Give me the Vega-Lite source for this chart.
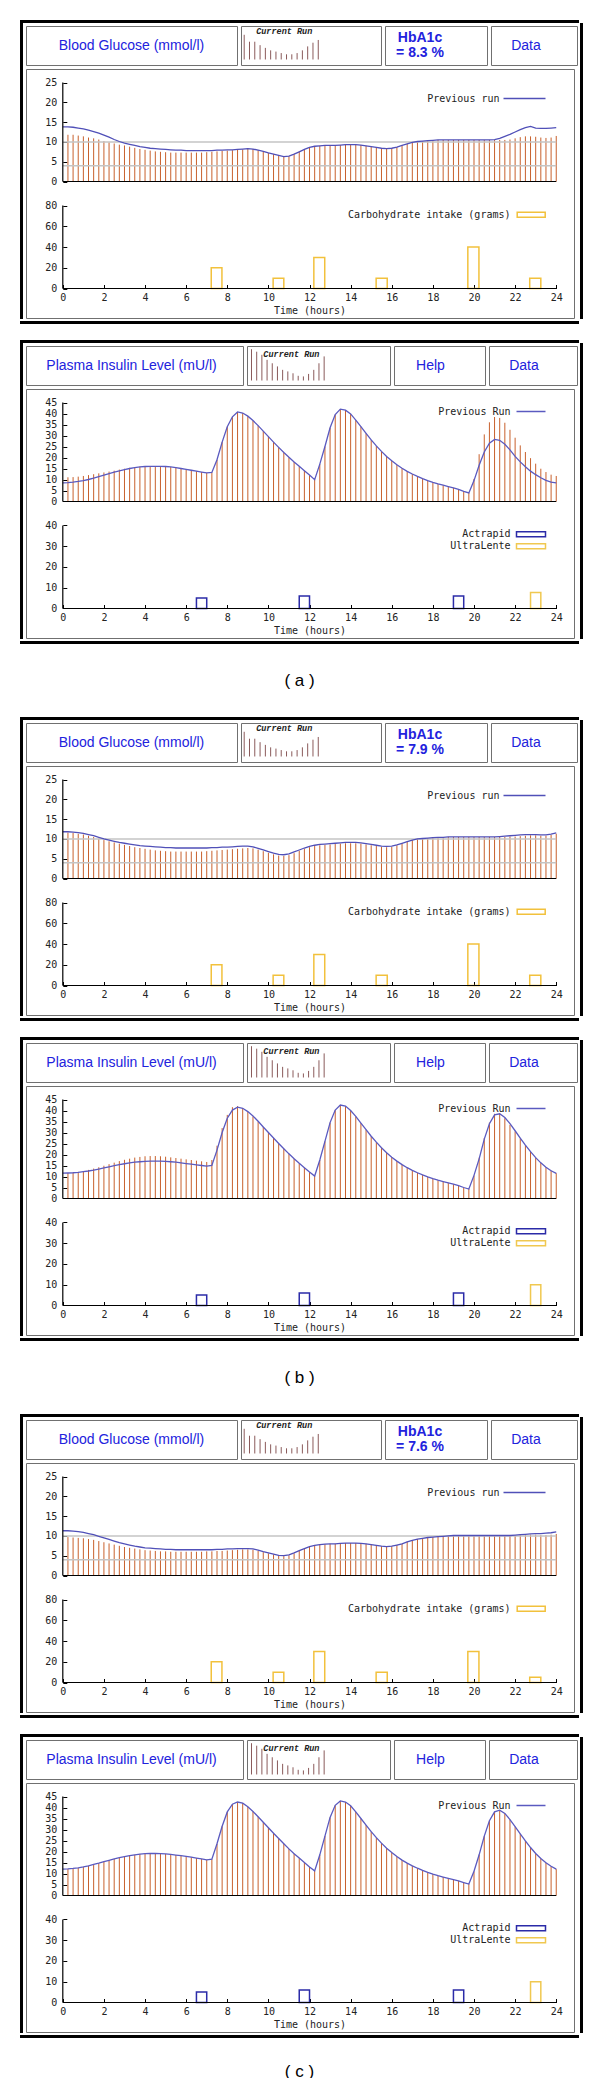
{
"$schema": "https://vega.github.io/schema/vega-lite/v6.json",
"background": "white",
"padding": {"left": 20, "top": 20, "right": 0, "bottom": 0},
"spacing": 16,
"config": {"view": {"stroke": null}},
"datasets": {
"ga": [{"t":0,"p":13.8},{"t":0.25,"v":11.8,"p":13.8},{"t":0.5,"v":11.8,"p":13.7},{"t":0.75,"v":11.6,"p":13.5},{"t":1,"v":11.4,"p":13.3},{"t":1.25,"v":11.1,"p":13.0},{"t":1.5,"v":10.9,"p":12.6},{"t":1.75,"v":10.6,"p":12.2},{"t":2,"v":10.2,"p":11.7},{"t":2.25,"v":9.9,"p":11.2},{"t":2.5,"v":9.6,"p":10.6},{"t":2.75,"v":9.3,"p":10.1},{"t":3,"v":9.1,"p":9.7},{"t":3.25,"v":8.8,"p":9.4},{"t":3.5,"v":8.5,"p":9.1},{"t":3.75,"v":8.2,"p":8.8},{"t":4,"v":8.0,"p":8.6},{"t":4.25,"v":7.8,"p":8.4},{"t":4.5,"v":7.6,"p":8.3},{"t":4.75,"v":7.5,"p":8.2},{"t":5,"v":7.4,"p":8.1},{"t":5.25,"v":7.3,"p":8.0},{"t":5.5,"v":7.3,"p":7.9},{"t":5.75,"v":7.3,"p":7.9},{"t":6,"v":7.3,"p":7.8},{"t":6.25,"v":7.3,"p":7.8},{"t":6.5,"v":7.3,"p":7.8},{"t":6.75,"v":7.3,"p":7.8},{"t":7,"v":7.4,"p":7.8},{"t":7.25,"v":7.5,"p":7.8},{"t":7.5,"v":7.6,"p":7.9},{"t":7.75,"v":7.7,"p":7.9},{"t":8,"v":7.8,"p":8.0},{"t":8.25,"v":7.9,"p":8.0},{"t":8.5,"v":8.0,"p":8.1},{"t":8.75,"v":8.1,"p":8.2},{"t":9,"v":8.2,"p":8.3},{"t":9.25,"v":8.2,"p":8.2},{"t":9.5,"v":7.9,"p":7.9},{"t":9.75,"v":7.6,"p":7.6},{"t":10,"v":7.2,"p":7.2},{"t":10.25,"v":6.9,"p":6.9},{"t":10.5,"v":6.6,"p":6.6},{"t":10.75,"v":6.3,"p":6.3},{"t":11,"v":6.4,"p":6.4},{"t":11.25,"v":6.9,"p":6.9},{"t":11.5,"v":7.5,"p":7.5},{"t":11.75,"v":8.1,"p":8.1},{"t":12,"v":8.6,"p":8.6},{"t":12.25,"v":8.9,"p":8.9},{"t":12.5,"v":9.0,"p":9.0},{"t":12.75,"v":9.1,"p":9.1},{"t":13,"v":9.1,"p":9.1},{"t":13.25,"v":9.1,"p":9.1},{"t":13.5,"v":9.2,"p":9.2},{"t":13.75,"v":9.3,"p":9.3},{"t":14,"v":9.3,"p":9.3},{"t":14.25,"v":9.3,"p":9.3},{"t":14.5,"v":9.2,"p":9.2},{"t":14.75,"v":9.0,"p":9.0},{"t":15,"v":8.8,"p":8.8},{"t":15.25,"v":8.6,"p":8.6},{"t":15.5,"v":8.4,"p":8.4},{"t":15.75,"v":8.3,"p":8.3},{"t":16,"v":8.4,"p":8.4},{"t":16.25,"v":8.7,"p":8.7},{"t":16.5,"v":9.1,"p":9.1},{"t":16.75,"v":9.5,"p":9.5},{"t":17,"v":9.9,"p":9.9},{"t":17.25,"v":10.1,"p":10.1},{"t":17.5,"v":10.2,"p":10.2},{"t":17.75,"v":10.3,"p":10.3},{"t":18,"v":10.4,"p":10.4},{"t":18.25,"v":10.5,"p":10.5},{"t":18.5,"v":10.5,"p":10.5},{"t":18.75,"v":10.5,"p":10.5},{"t":19,"v":10.5,"p":10.5},{"t":19.25,"v":10.5,"p":10.5},{"t":19.5,"v":10.5,"p":10.5},{"t":19.75,"v":10.5,"p":10.5},{"t":20,"v":10.5,"p":10.5},{"t":20.25,"v":10.5,"p":10.5},{"t":20.5,"v":10.5,"p":10.5},{"t":20.75,"v":10.5,"p":10.5},{"t":21,"v":10.5,"p":10.6},{"t":21.25,"v":10.5,"p":10.9},{"t":21.5,"v":10.5,"p":11.4},{"t":21.75,"v":10.6,"p":11.9},{"t":22,"v":10.9,"p":12.5},{"t":22.25,"v":11.2,"p":13.1},{"t":22.5,"v":11.4,"p":13.6},{"t":22.75,"v":11.4,"p":13.9},{"t":23,"v":11.3,"p":13.5},{"t":23.25,"v":11.1,"p":13.4},{"t":23.5,"v":11.0,"p":13.4},{"t":23.75,"v":11.1,"p":13.5},{"t":24,"v":11.5,"p":13.6}],
"gb": [{"t":0,"p":11.8},{"t":0.25,"v":11.6,"p":11.8},{"t":0.5,"v":11.5,"p":11.7},{"t":0.75,"v":11.3,"p":11.6},{"t":1,"v":11.1,"p":11.4},{"t":1.25,"v":10.8,"p":11.1},{"t":1.5,"v":10.5,"p":10.8},{"t":1.75,"v":10.1,"p":10.4},{"t":2,"v":9.7,"p":10.0},{"t":2.25,"v":9.4,"p":9.7},{"t":2.5,"v":9.1,"p":9.4},{"t":2.75,"v":8.8,"p":9.1},{"t":3,"v":8.5,"p":8.9},{"t":3.25,"v":8.2,"p":8.7},{"t":3.5,"v":7.9,"p":8.5},{"t":3.75,"v":7.7,"p":8.3},{"t":4,"v":7.5,"p":8.2},{"t":4.25,"v":7.3,"p":8.1},{"t":4.5,"v":7.1,"p":8.0},{"t":4.75,"v":7.0,"p":7.9},{"t":5,"v":6.9,"p":7.8},{"t":5.25,"v":6.8,"p":7.8},{"t":5.5,"v":6.8,"p":7.7},{"t":5.75,"v":6.8,"p":7.7},{"t":6,"v":6.8,"p":7.7},{"t":6.25,"v":6.8,"p":7.7},{"t":6.5,"v":6.8,"p":7.7},{"t":6.75,"v":6.8,"p":7.7},{"t":7,"v":6.9,"p":7.7},{"t":7.25,"v":7.0,"p":7.8},{"t":7.5,"v":7.1,"p":7.8},{"t":7.75,"v":7.2,"p":7.9},{"t":8,"v":7.3,"p":7.9},{"t":8.25,"v":7.4,"p":8.0},{"t":8.5,"v":7.5,"p":8.1},{"t":8.75,"v":7.6,"p":8.2},{"t":9,"v":7.7,"p":8.2},{"t":9.25,"v":7.6,"p":8.0},{"t":9.5,"v":7.3,"p":7.6},{"t":9.75,"v":6.9,"p":7.2},{"t":10,"v":6.5,"p":6.8},{"t":10.25,"v":6.1,"p":6.4},{"t":10.5,"v":5.8,"p":6.1},{"t":10.75,"v":5.7,"p":6.0},{"t":11,"v":5.9,"p":6.2},{"t":11.25,"v":6.4,"p":6.7},{"t":11.5,"v":7.0,"p":7.2},{"t":11.75,"v":7.5,"p":7.7},{"t":12,"v":7.9,"p":8.1},{"t":12.25,"v":8.2,"p":8.4},{"t":12.5,"v":8.4,"p":8.6},{"t":12.75,"v":8.5,"p":8.7},{"t":13,"v":8.6,"p":8.8},{"t":13.25,"v":8.7,"p":8.9},{"t":13.5,"v":8.8,"p":9.0},{"t":13.75,"v":8.9,"p":9.1},{"t":14,"v":8.9,"p":9.1},{"t":14.25,"v":8.9,"p":9.1},{"t":14.5,"v":8.8,"p":9.0},{"t":14.75,"v":8.6,"p":8.8},{"t":15,"v":8.4,"p":8.6},{"t":15.25,"v":8.2,"p":8.4},{"t":15.5,"v":8.0,"p":8.2},{"t":15.75,"v":7.9,"p":8.1},{"t":16,"v":8.0,"p":8.2},{"t":16.25,"v":8.4,"p":8.5},{"t":16.5,"v":8.8,"p":8.9},{"t":16.75,"v":9.3,"p":9.3},{"t":17,"v":9.7,"p":9.7},{"t":17.25,"v":10.0,"p":10.0},{"t":17.5,"v":10.1,"p":10.1},{"t":17.75,"v":10.2,"p":10.2},{"t":18,"v":10.3,"p":10.3},{"t":18.25,"v":10.4,"p":10.4},{"t":18.5,"v":10.4,"p":10.4},{"t":18.75,"v":10.5,"p":10.5},{"t":19,"v":10.5,"p":10.5},{"t":19.25,"v":10.5,"p":10.5},{"t":19.5,"v":10.5,"p":10.5},{"t":19.75,"v":10.5,"p":10.5},{"t":20,"v":10.5,"p":10.5},{"t":20.25,"v":10.5,"p":10.5},{"t":20.5,"v":10.5,"p":10.5},{"t":20.75,"v":10.5,"p":10.5},{"t":21,"v":10.5,"p":10.5},{"t":21.25,"v":10.5,"p":10.6},{"t":21.5,"v":10.5,"p":10.7},{"t":21.75,"v":10.6,"p":10.8},{"t":22,"v":10.6,"p":10.9},{"t":22.25,"v":10.7,"p":11.0},{"t":22.5,"v":10.8,"p":11.1},{"t":22.75,"v":10.9,"p":11.1},{"t":23,"v":10.9,"p":11.1},{"t":23.25,"v":10.8,"p":11.0},{"t":23.5,"v":10.8,"p":11.0},{"t":23.75,"v":11.0,"p":11.2},{"t":24,"v":11.3,"p":11.5}],
"gc": [{"t":0,"p":11.3},{"t":0.25,"v":9.7,"p":11.3},{"t":0.5,"v":9.6,"p":11.2},{"t":0.75,"v":9.5,"p":11.1},{"t":1,"v":9.4,"p":10.9},{"t":1.25,"v":9.2,"p":10.6},{"t":1.5,"v":9.0,"p":10.3},{"t":1.75,"v":8.7,"p":9.9},{"t":2,"v":8.4,"p":9.5},{"t":2.25,"v":8.1,"p":9.1},{"t":2.5,"v":7.8,"p":8.7},{"t":2.75,"v":7.5,"p":8.3},{"t":3,"v":7.2,"p":8.0},{"t":3.25,"v":7.0,"p":7.7},{"t":3.5,"v":6.8,"p":7.4},{"t":3.75,"v":6.6,"p":7.2},{"t":4,"v":6.4,"p":7.0},{"t":4.25,"v":6.3,"p":6.9},{"t":4.5,"v":6.2,"p":6.8},{"t":4.75,"v":6.1,"p":6.7},{"t":5,"v":6.1,"p":6.6},{"t":5.25,"v":6.0,"p":6.6},{"t":5.5,"v":6.0,"p":6.5},{"t":5.75,"v":6.0,"p":6.5},{"t":6,"v":6.0,"p":6.5},{"t":6.25,"v":6.0,"p":6.5},{"t":6.5,"v":6.0,"p":6.5},{"t":6.75,"v":6.0,"p":6.5},{"t":7,"v":6.1,"p":6.5},{"t":7.25,"v":6.1,"p":6.5},{"t":7.5,"v":6.2,"p":6.6},{"t":7.75,"v":6.2,"p":6.6},{"t":8,"v":6.3,"p":6.7},{"t":8.25,"v":6.4,"p":6.7},{"t":8.5,"v":6.5,"p":6.8},{"t":8.75,"v":6.6,"p":6.8},{"t":9,"v":6.6,"p":6.8},{"t":9.25,"v":6.5,"p":6.7},{"t":9.5,"v":6.2,"p":6.4},{"t":9.75,"v":5.9,"p":6.0},{"t":10,"v":5.6,"p":5.7},{"t":10.25,"v":5.3,"p":5.4},{"t":10.5,"v":5.0,"p":5.1},{"t":10.75,"v":4.9,"p":5.0},{"t":11,"v":5.1,"p":5.2},{"t":11.25,"v":5.6,"p":5.7},{"t":11.5,"v":6.2,"p":6.3},{"t":11.75,"v":6.8,"p":6.8},{"t":12,"v":7.3,"p":7.3},{"t":12.25,"v":7.6,"p":7.6},{"t":12.5,"v":7.8,"p":7.8},{"t":12.75,"v":7.9,"p":7.9},{"t":13,"v":8.0,"p":8.0},{"t":13.25,"v":8.0,"p":8.0},{"t":13.5,"v":8.1,"p":8.1},{"t":13.75,"v":8.2,"p":8.2},{"t":14,"v":8.2,"p":8.2},{"t":14.25,"v":8.2,"p":8.2},{"t":14.5,"v":8.1,"p":8.1},{"t":14.75,"v":8.0,"p":8.0},{"t":15,"v":7.8,"p":7.8},{"t":15.25,"v":7.6,"p":7.6},{"t":15.5,"v":7.4,"p":7.4},{"t":15.75,"v":7.3,"p":7.3},{"t":16,"v":7.4,"p":7.4},{"t":16.25,"v":7.7,"p":7.7},{"t":16.5,"v":8.0,"p":8.0},{"t":16.75,"v":8.5,"p":8.5},{"t":17,"v":8.9,"p":8.9},{"t":17.25,"v":9.2,"p":9.2},{"t":17.5,"v":9.4,"p":9.4},{"t":17.75,"v":9.6,"p":9.6},{"t":18,"v":9.7,"p":9.7},{"t":18.25,"v":9.8,"p":9.8},{"t":18.5,"v":9.9,"p":9.9},{"t":18.75,"v":10.0,"p":10.0},{"t":19,"v":10.1,"p":10.1},{"t":19.25,"v":10.1,"p":10.1},{"t":19.5,"v":10.1,"p":10.1},{"t":19.75,"v":10.1,"p":10.1},{"t":20,"v":10.1,"p":10.1},{"t":20.25,"v":10.1,"p":10.1},{"t":20.5,"v":10.1,"p":10.1},{"t":20.75,"v":10.1,"p":10.1},{"t":21,"v":10.1,"p":10.1},{"t":21.25,"v":10.1,"p":10.1},{"t":21.5,"v":10.1,"p":10.1},{"t":21.75,"v":10.1,"p":10.1},{"t":22,"v":10.1,"p":10.2},{"t":22.25,"v":10.2,"p":10.3},{"t":22.5,"v":10.3,"p":10.4},{"t":22.75,"v":10.3,"p":10.5},{"t":23,"v":10.3,"p":10.6},{"t":23.25,"v":10.2,"p":10.6},{"t":23.5,"v":10.2,"p":10.7},{"t":23.75,"v":10.3,"p":10.8},{"t":24,"v":10.5,"p":11.0}],
"ia": [{"t":0,"p":8.5},{"t":0.25,"v":11.0,"p":8.6},{"t":0.5,"v":11.1,"p":8.8},{"t":0.75,"v":11.3,"p":9.1},{"t":1,"v":11.6,"p":9.5},{"t":1.25,"v":12.0,"p":10.0},{"t":1.5,"v":12.4,"p":10.6},{"t":1.75,"v":12.8,"p":11.3},{"t":2,"v":13.2,"p":12.0},{"t":2.25,"v":13.6,"p":12.7},{"t":2.5,"v":14.0,"p":13.3},{"t":2.75,"v":14.5,"p":13.9},{"t":3,"v":14.9,"p":14.5},{"t":3.25,"v":15.3,"p":15.0},{"t":3.5,"v":15.6,"p":15.4},{"t":3.75,"v":15.8,"p":15.7},{"t":4,"v":16.0,"p":15.9},{"t":4.25,"v":16.0,"p":16.0},{"t":4.5,"v":16.0,"p":16.0},{"t":4.75,"v":16.0,"p":16.0},{"t":5,"v":15.9,"p":15.9},{"t":5.25,"v":15.7,"p":15.7},{"t":5.5,"v":15.4,"p":15.4},{"t":5.75,"v":15.0,"p":15.0},{"t":6,"v":14.6,"p":14.6},{"t":6.25,"v":14.2,"p":14.2},{"t":6.5,"v":13.8,"p":13.8},{"t":6.75,"v":13.4,"p":13.4},{"t":7,"v":13.0,"p":13.0},{"t":7.25,"v":13.2,"p":13.2},{"t":7.5,"v":19.0,"p":19.0},{"t":7.75,"v":27.0,"p":27.0},{"t":8,"v":34.0,"p":34.0},{"t":8.25,"v":38.5,"p":38.5},{"t":8.5,"v":40.7,"p":40.7},{"t":8.75,"v":40.2,"p":40.2},{"t":9,"v":38.8,"p":38.8},{"t":9.25,"v":36.8,"p":36.8},{"t":9.5,"v":34.5,"p":34.5},{"t":9.75,"v":32.0,"p":32.0},{"t":10,"v":29.5,"p":29.5},{"t":10.25,"v":27.0,"p":27.0},{"t":10.5,"v":24.6,"p":24.6},{"t":10.75,"v":22.3,"p":22.3},{"t":11,"v":20.1,"p":20.1},{"t":11.25,"v":18.0,"p":18.0},{"t":11.5,"v":16.0,"p":16.0},{"t":11.75,"v":14.0,"p":14.0},{"t":12,"v":12.0,"p":12.0},{"t":12.25,"v":9.9,"p":9.9},{"t":12.5,"v":17.0,"p":17.0},{"t":12.75,"v":25.0,"p":25.0},{"t":13,"v":33.5,"p":33.5},{"t":13.25,"v":39.5,"p":39.5},{"t":13.5,"v":42.0,"p":42.0},{"t":13.75,"v":41.5,"p":41.5},{"t":14,"v":39.8,"p":39.8},{"t":14.25,"v":37.0,"p":37.0},{"t":14.5,"v":34.0,"p":34.0},{"t":14.75,"v":31.0,"p":31.0},{"t":15,"v":28.0,"p":28.0},{"t":15.25,"v":25.3,"p":25.3},{"t":15.5,"v":22.8,"p":22.8},{"t":15.75,"v":20.5,"p":20.5},{"t":16,"v":18.5,"p":18.5},{"t":16.25,"v":16.7,"p":16.7},{"t":16.5,"v":15.1,"p":15.1},{"t":16.75,"v":13.7,"p":13.7},{"t":17,"v":12.5,"p":12.5},{"t":17.25,"v":11.4,"p":11.4},{"t":17.5,"v":10.4,"p":10.4},{"t":17.75,"v":9.5,"p":9.5},{"t":18,"v":8.7,"p":8.7},{"t":18.25,"v":8.0,"p":8.0},{"t":18.5,"v":7.4,"p":7.4},{"t":18.75,"v":6.8,"p":6.8},{"t":19,"v":6.2,"p":6.2},{"t":19.25,"v":5.5,"p":5.5},{"t":19.5,"v":4.6,"p":4.6},{"t":19.75,"v":3.9,"p":3.9},{"t":20,"v":10.3,"p":9.5},{"t":20.25,"v":21.5,"p":16.5},{"t":20.5,"v":30.5,"p":22.5},{"t":20.75,"v":36.0,"p":26.5},{"t":21,"v":38.4,"p":28.2},{"t":21.25,"v":38.0,"p":27.8},{"t":21.5,"v":35.8,"p":26.0},{"t":21.75,"v":32.6,"p":23.5},{"t":22,"v":29.0,"p":20.5},{"t":22.25,"v":25.5,"p":18.0},{"t":22.5,"v":22.5,"p":15.8},{"t":22.75,"v":19.7,"p":13.8},{"t":23,"v":17.2,"p":12.2},{"t":23.25,"v":14.9,"p":10.8},{"t":23.5,"v":13.4,"p":9.6},{"t":23.75,"v":12.2,"p":8.8},{"t":24,"v":11.6,"p":8.5}],
"ib": [{"t":0,"p":11.5},{"t":0.25,"v":11.6,"p":11.6},{"t":0.5,"v":11.8,"p":11.7},{"t":0.75,"v":12.1,"p":11.9},{"t":1,"v":12.5,"p":12.2},{"t":1.25,"v":13.0,"p":12.5},{"t":1.5,"v":13.6,"p":12.9},{"t":1.75,"v":14.2,"p":13.4},{"t":2,"v":14.9,"p":13.9},{"t":2.25,"v":15.6,"p":14.4},{"t":2.5,"v":16.3,"p":14.9},{"t":2.75,"v":17.0,"p":15.4},{"t":3,"v":17.6,"p":15.8},{"t":3.25,"v":18.1,"p":16.2},{"t":3.5,"v":18.6,"p":16.5},{"t":3.75,"v":18.9,"p":16.7},{"t":4,"v":19.2,"p":16.9},{"t":4.25,"v":19.3,"p":17.0},{"t":4.5,"v":19.3,"p":17.0},{"t":4.75,"v":19.2,"p":17.0},{"t":5,"v":19.0,"p":16.9},{"t":5.25,"v":18.7,"p":16.7},{"t":5.5,"v":18.4,"p":16.5},{"t":5.75,"v":18.1,"p":16.2},{"t":6,"v":17.8,"p":15.9},{"t":6.25,"v":17.5,"p":15.6},{"t":6.5,"v":17.2,"p":15.3},{"t":6.75,"v":16.9,"p":15.0},{"t":7,"v":16.6,"p":14.7},{"t":7.25,"v":17.5,"p":15.0},{"t":7.5,"v":24.0,"p":22.0},{"t":7.75,"v":32.0,"p":30.0},{"t":8,"v":38.0,"p":36.5},{"t":8.25,"v":41.5,"p":40.2},{"t":8.5,"v":42.0,"p":41.5},{"t":8.75,"v":41.0,"p":41.0},{"t":9,"v":39.3,"p":39.5},{"t":9.25,"v":37.3,"p":37.5},{"t":9.5,"v":35.0,"p":35.1},{"t":9.75,"v":32.5,"p":32.5},{"t":10,"v":30.0,"p":30.0},{"t":10.25,"v":27.5,"p":27.5},{"t":10.5,"v":25.0,"p":25.0},{"t":10.75,"v":22.6,"p":22.6},{"t":11,"v":20.3,"p":20.3},{"t":11.25,"v":18.1,"p":18.1},{"t":11.5,"v":16.0,"p":16.0},{"t":11.75,"v":14.0,"p":14.0},{"t":12,"v":12.0,"p":12.0},{"t":12.25,"v":10.2,"p":10.2},{"t":12.5,"v":17.5,"p":17.5},{"t":12.75,"v":26.0,"p":26.0},{"t":13,"v":34.5,"p":34.5},{"t":13.25,"v":40.2,"p":40.2},{"t":13.5,"v":42.5,"p":42.5},{"t":13.75,"v":42.0,"p":42.0},{"t":14,"v":40.0,"p":40.0},{"t":14.25,"v":37.3,"p":37.3},{"t":14.5,"v":34.3,"p":34.3},{"t":14.75,"v":31.3,"p":31.3},{"t":15,"v":28.3,"p":28.3},{"t":15.25,"v":25.6,"p":25.6},{"t":15.5,"v":23.1,"p":23.1},{"t":15.75,"v":20.8,"p":20.8},{"t":16,"v":18.8,"p":18.8},{"t":16.25,"v":17.0,"p":17.0},{"t":16.5,"v":15.4,"p":15.4},{"t":16.75,"v":14.0,"p":14.0},{"t":17,"v":12.8,"p":12.8},{"t":17.25,"v":11.7,"p":11.7},{"t":17.5,"v":10.7,"p":10.7},{"t":17.75,"v":9.8,"p":9.8},{"t":18,"v":9.0,"p":9.0},{"t":18.25,"v":8.3,"p":8.3},{"t":18.5,"v":7.7,"p":7.7},{"t":18.75,"v":7.1,"p":7.1},{"t":19,"v":6.5,"p":6.5},{"t":19.25,"v":5.8,"p":5.8},{"t":19.5,"v":5.0,"p":5.0},{"t":19.75,"v":4.3,"p":4.3},{"t":20,"v":10.5,"p":10.5},{"t":20.25,"v":18.5,"p":18.0},{"t":20.5,"v":27.5,"p":27.0},{"t":20.75,"v":34.5,"p":34.0},{"t":21,"v":38.5,"p":38.0},{"t":21.25,"v":38.5,"p":38.5},{"t":21.5,"v":36.5,"p":36.8},{"t":21.75,"v":33.5,"p":34.0},{"t":22,"v":30.5,"p":30.8},{"t":22.25,"v":27.3,"p":27.5},{"t":22.5,"v":24.2,"p":24.3},{"t":22.75,"v":21.3,"p":21.3},{"t":23,"v":18.6,"p":18.6},{"t":23.25,"v":16.2,"p":16.2},{"t":23.5,"v":14.2,"p":14.2},{"t":23.75,"v":12.7,"p":12.6},{"t":24,"v":11.5,"p":11.4}],
"ic": [{"t":0,"p":12.0},{"t":0.25,"v":12.1,"p":12.1},{"t":0.5,"v":12.3,"p":12.3},{"t":0.75,"v":12.6,"p":12.6},{"t":1,"v":13.0,"p":13.0},{"t":1.25,"v":13.5,"p":13.5},{"t":1.5,"v":14.1,"p":14.1},{"t":1.75,"v":14.7,"p":14.7},{"t":2,"v":15.4,"p":15.4},{"t":2.25,"v":16.0,"p":16.0},{"t":2.5,"v":16.6,"p":16.6},{"t":2.75,"v":17.2,"p":17.2},{"t":3,"v":17.7,"p":17.7},{"t":3.25,"v":18.1,"p":18.1},{"t":3.5,"v":18.5,"p":18.5},{"t":3.75,"v":18.8,"p":18.8},{"t":4,"v":19.0,"p":19.0},{"t":4.25,"v":19.1,"p":19.1},{"t":4.5,"v":19.1,"p":19.1},{"t":4.75,"v":19.0,"p":19.0},{"t":5,"v":18.9,"p":18.9},{"t":5.25,"v":18.7,"p":18.7},{"t":5.5,"v":18.4,"p":18.4},{"t":5.75,"v":18.1,"p":18.1},{"t":6,"v":17.8,"p":17.8},{"t":6.25,"v":17.4,"p":17.4},{"t":6.5,"v":17.0,"p":17.0},{"t":6.75,"v":16.6,"p":16.6},{"t":7,"v":16.2,"p":16.2},{"t":7.25,"v":16.5,"p":16.5},{"t":7.5,"v":23.5,"p":23.5},{"t":7.75,"v":31.5,"p":31.5},{"t":8,"v":38.0,"p":38.0},{"t":8.25,"v":41.5,"p":41.5},{"t":8.5,"v":42.5,"p":42.5},{"t":8.75,"v":42.0,"p":42.0},{"t":9,"v":40.3,"p":40.3},{"t":9.25,"v":38.2,"p":38.2},{"t":9.5,"v":35.8,"p":35.8},{"t":9.75,"v":33.3,"p":33.3},{"t":10,"v":30.8,"p":30.8},{"t":10.25,"v":28.3,"p":28.3},{"t":10.5,"v":25.9,"p":25.9},{"t":10.75,"v":23.5,"p":23.5},{"t":11,"v":21.2,"p":21.2},{"t":11.25,"v":19.0,"p":19.0},{"t":11.5,"v":17.0,"p":17.0},{"t":11.75,"v":15.0,"p":15.0},{"t":12,"v":13.0,"p":13.0},{"t":12.25,"v":11.2,"p":11.2},{"t":12.5,"v":18.5,"p":18.5},{"t":12.75,"v":27.0,"p":27.0},{"t":13,"v":35.5,"p":35.5},{"t":13.25,"v":41.0,"p":41.0},{"t":13.5,"v":43.0,"p":43.0},{"t":13.75,"v":42.5,"p":42.5},{"t":14,"v":40.8,"p":40.8},{"t":14.25,"v":38.0,"p":38.0},{"t":14.5,"v":35.0,"p":35.0},{"t":14.75,"v":32.0,"p":32.0},{"t":15,"v":29.0,"p":29.0},{"t":15.25,"v":26.3,"p":26.3},{"t":15.5,"v":23.8,"p":23.8},{"t":15.75,"v":21.5,"p":21.5},{"t":16,"v":19.5,"p":19.5},{"t":16.25,"v":17.7,"p":17.7},{"t":16.5,"v":16.1,"p":16.1},{"t":16.75,"v":14.7,"p":14.7},{"t":17,"v":13.5,"p":13.5},{"t":17.25,"v":12.4,"p":12.4},{"t":17.5,"v":11.4,"p":11.4},{"t":17.75,"v":10.5,"p":10.5},{"t":18,"v":9.7,"p":9.7},{"t":18.25,"v":9.0,"p":9.0},{"t":18.5,"v":8.4,"p":8.4},{"t":18.75,"v":7.8,"p":7.8},{"t":19,"v":7.2,"p":7.2},{"t":19.25,"v":6.6,"p":6.6},{"t":19.5,"v":5.9,"p":5.9},{"t":19.75,"v":5.2,"p":5.2},{"t":20,"v":11.0,"p":11.0},{"t":20.25,"v":18.5,"p":18.5},{"t":20.5,"v":27.0,"p":27.0},{"t":20.75,"v":34.0,"p":34.0},{"t":21,"v":38.0,"p":38.0},{"t":21.25,"v":38.8,"p":38.8},{"t":21.5,"v":37.3,"p":37.3},{"t":21.75,"v":34.5,"p":34.5},{"t":22,"v":31.3,"p":31.3},{"t":22.25,"v":28.0,"p":28.0},{"t":22.5,"v":24.8,"p":24.8},{"t":22.75,"v":21.8,"p":21.8},{"t":23,"v":19.1,"p":19.1},{"t":23.25,"v":16.8,"p":16.8},{"t":23.5,"v":14.9,"p":14.9},{"t":23.75,"v":13.3,"p":13.3},{"t":24,"v":12.0,"p":12.0}],
"ca": [{"t0":7.22,"t1":7.74,"c":20},{"t0":10.23,"t1":10.75,"c":10},{"t0":12.21,"t1":12.74,"c":30},{"t0":15.24,"t1":15.78,"c":10},{"t0":19.7,"t1":20.24,"c":40},{"t0":22.71,"t1":23.25,"c":10}],
"cb": [{"t0":7.22,"t1":7.74,"c":20},{"t0":10.23,"t1":10.75,"c":10},{"t0":12.21,"t1":12.74,"c":30},{"t0":15.24,"t1":15.78,"c":10},{"t0":19.7,"t1":20.24,"c":40},{"t0":22.71,"t1":23.25,"c":10}],
"cc": [{"t0":7.22,"t1":7.74,"c":20},{"t0":10.23,"t1":10.75,"c":10},{"t0":12.21,"t1":12.74,"c":30},{"t0":15.24,"t1":15.78,"c":10},{"t0":19.7,"t1":20.24,"c":30},{"t0":22.71,"t1":23.25,"c":5}],
"da": [{"t0":6.5,"t1":7.0,"d":5,"type":"Actrapid"},{"t0":11.5,"t1":12.0,"d":6,"type":"Actrapid"},{"t0":19.0,"t1":19.5,"d":6,"type":"Actrapid"},{"t0":22.75,"t1":23.25,"d":7.7,"type":"UltraLente"}],
"db": [{"t0":6.5,"t1":7.0,"d":5,"type":"Actrapid"},{"t0":11.5,"t1":12.0,"d":6,"type":"Actrapid"},{"t0":19.0,"t1":19.5,"d":6,"type":"Actrapid"},{"t0":22.75,"t1":23.25,"d":10,"type":"UltraLente"}],
"dc": [{"t0":6.5,"t1":7.0,"d":5,"type":"Actrapid"},{"t0":11.5,"t1":12.0,"d":6,"type":"Actrapid"},{"t0":19.0,"t1":19.5,"d":6,"type":"Actrapid"},{"t0":22.75,"t1":23.25,"d":10,"type":"UltraLente"}],
"mg": [{"i":0,"h":1.0},{"i":1,"h":0.72},{"i":2,"h":0.72},{"i":3,"h":0.58},{"i":4,"h":0.47},{"i":5,"h":0.37},{"i":6,"h":0.32},{"i":7,"h":0.26},{"i":8,"h":0.21},{"i":9,"h":0.21},{"i":10,"h":0.26},{"i":11,"h":0.37},{"i":12,"h":0.53},{"i":13,"h":0.68},{"i":14,"h":0.79}],
"mi": [{"i":0,"h":1.0},{"i":1,"h":0.92},{"i":2,"h":0.82},{"i":3,"h":0.66},{"i":4,"h":0.55},{"i":5,"h":0.45},{"i":6,"h":0.34},{"i":7,"h":0.29},{"i":8,"h":0.23},{"i":9,"h":0.15},{"i":10,"h":0.13},{"i":11,"h":0.21},{"i":12,"h":0.34},{"i":13,"h":0.55},{"i":14,"h":0.77}]
},
"vconcat": [
{"spacing": 0, "vconcat": [
 {"width": 559, "height": 3, "data": {"values": []}, "mark": "rect", "view": {"fill": "#000", "stroke": null}},
 {"spacing": 2, "hconcat": [
  {"width": 3, "height": 296, "data": {"values": []}, "mark": "rect", "view": {"fill": "#000", "stroke": null}},
  {"spacing": 0, "vconcat": [
   {"width": 549, "height": 2, "data": {"values": []}, "mark": "rect"},
   {"spacing": 2, "hconcat": [
    {"width": 211, "height": 39, "view": {"stroke": "#707070"}, "data": {"values": [{"s": "Blood Glucose (mmol/l)"}]}, "mark": {"type": "text", "font": "Liberation Sans", "fontSize": 14, "color": "#2222dd"}, "encoding": {"text": {"field": "s"}}},
    {"width": 140, "height": 39, "view": {"stroke": "#707070"}, "layer": [
      {"data": {"name": "mg"}, "mark": {"type": "rule", "color": "#8a5a5a", "strokeWidth": 1}, "encoding": {"x": {"field": "i", "type": "quantitative", "scale": {"domain": [-0.605, 25.86], "nice": false, "zero": false}, "axis": null}, "y": {"field": "h", "type": "quantitative", "scale": {"domain": [-0.223, 1.356], "nice": false, "zero": false}, "axis": null}, "y2": {"datum": 0}}},
      {"data": {"values": [{"s": "Current Run"}]}, "mark": {"type": "text", "font": "Liberation Mono", "fontSize": 8.5, "fontStyle": "italic", "fontWeight": "bold", "color": "#222"}, "encoding": {"text": {"field": "s"}, "x": {"datum": 7.56}, "y": {"datum": 1.134}}}
    ]},
    {"width": 102, "height": 39, "view": {"stroke": "#707070"}, "data": {"values": [{"s": ["HbA1c", "= 8.3 %"]}]}, "mark": {"type": "text", "font": "Liberation Sans", "fontSize": 14, "fontWeight": "bold", "lineHeight": 15, "color": "#2222dd", "dx": -16, "dy": -7.5}, "encoding": {"text": {"field": "s"}}},
    {"width": 86, "height": 39, "view": {"stroke": "#707070"}, "data": {"values": [{"s": "Data"}]}, "mark": {"type": "text", "font": "Liberation Sans", "fontSize": 14, "color": "#2222dd", "dx": -8}, "encoding": {"text": {"field": "s"}}}
   ]},
   {"width": 549, "height": 2, "data": {"values": []}, "mark": "rect"},
   {"width": 548, "height": 249, "view": {"stroke": "#707070"},
    "resolve": {"scale": {"y": "independent", "stroke": "independent"}, "axis": {"x": "independent", "y": "independent"}, "legend": {"stroke": "independent"}},
    "layer": [
     {"data": {"name": "ga"}, "mark": {"type": "rule", "color": "#c8602c", "strokeWidth": 1}, "encoding": {"x": {"field": "t", "type": "quantitative", "scale": {"domain": [-1.79, 24.864], "nice": false, "zero": false}, "axis": null}, "y": {"field": "v", "type": "quantitative", "scale": {"domain": [-34.47, 28.41], "nice": false, "zero": false}, "axis": {"orient": "left", "offset": -36.8, "values": [0,5,10,15,20,25], "domain": false, "grid": false, "tickSize": -4, "tickColor": "#000", "labelPadding": 10, "labelFont": "DejaVu Sans Mono", "labelFontSize": 10, "labelColor": "#222", "title": null}}, "y2": {"datum": 0}}},
     {"data": {"values": [{"lvl": 10}, {"lvl": 4}]}, "mark": {"type": "rule", "color": "#c4c4c4", "strokeWidth": 1.5}, "encoding": {"x": {"datum": 0, "scale": {"domain": [-1.79, 24.864], "nice": false, "zero": false}, "axis": null}, "x2": {"datum": 24}, "y": {"field": "lvl", "type": "quantitative", "scale": {"domain": [-34.47, 28.41], "nice": false, "zero": false}, "axis": null}}},
     {"data": {"name": "ga"}, "mark": {"type": "line", "strokeWidth": 1.3}, "encoding": {"x": {"field": "t", "type": "quantitative", "scale": {"domain": [-1.79, 24.864], "nice": false, "zero": false}, "axis": null}, "y": {"field": "p", "type": "quantitative", "scale": {"domain": [-34.47, 28.41], "nice": false, "zero": false}, "axis": null}, "stroke": {"datum": "Previous run", "scale": {"range": ["#5050b8"]}, "legend": {"orient": "none", "legendX": 492.5, "legendY": 23.5, "title": null, "padding": 0, "symbolType": "M-4.2,0L4.2,0", "symbolSize": 100, "symbolStrokeWidth": 1.5, "labelFont": "DejaVu Sans Mono", "labelFontSize": 10, "labelColor": "#222", "labelAlign": "right", "labelOffset": -31, "labelLimit": 300}}}},
     {"data": {"values": [{"k": 1}]}, "mark": {"type": "rule", "color": "#000", "strokeWidth": 1.2}, "encoding": {"x": {"datum": 0, "scale": {"domain": [-1.79, 24.864], "nice": false, "zero": false}, "axis": null}, "x2": {"datum": 24}, "y": {"datum": 0, "scale": {"domain": [-34.47, 28.41], "nice": false, "zero": false}, "axis": null}}},
     {"data": {"values": [{"k": 1}]}, "mark": {"type": "rule", "color": "#000", "strokeWidth": 1.2}, "encoding": {"x": {"datum": 0, "scale": {"domain": [-1.79, 24.864], "nice": false, "zero": false}, "axis": null}, "y": {"datum": 0, "scale": {"domain": [-34.47, 28.41], "nice": false, "zero": false}, "axis": null}, "y2": {"datum": 25}}},
     {"data": {"name": "ca"}, "mark": {"type": "rect", "filled": false, "strokeWidth": 1.5}, "encoding": {"x": {"field": "t0", "type": "quantitative", "scale": {"domain": [-1.79, 24.864], "nice": false, "zero": false}, "axis": {"orient": "bottom", "offset": -29.5, "values": [0,2,4,6,8,10,12,14,16,18,20,22,24], "domain": false, "grid": false, "tickSize": -4, "tickColor": "#000", "labelPadding": 8, "labelFlush": false, "labelFont": "DejaVu Sans Mono", "labelFontSize": 10, "labelColor": "#222", "title": "Time (hours)", "titleFont": "DejaVu Sans Mono", "titleFontSize": 10, "titleFontWeight": "normal", "titleColor": "#222", "titlePadding": 3, "titleX": 283.5}}, "x2": {"field": "t1"}, "y": {"field": "c", "type": "quantitative", "scale": {"domain": [-28.43, 211.57], "nice": false, "zero": false}, "axis": {"orient": "left", "offset": -36.8, "values": [0,20,40,60,80], "domain": false, "grid": false, "tickSize": -4, "tickColor": "#000", "labelPadding": 10, "labelFont": "DejaVu Sans Mono", "labelFontSize": 10, "labelColor": "#222", "title": null}}, "y2": {"datum": 0}, "stroke": {"datum": "Carbohydrate intake (grams)", "scale": {"range": ["#f2c13c"]}, "legend": {"orient": "none", "legendX": 499.2, "legendY": 139.8, "title": null, "padding": 0, "symbolType": "M-2.8,-0.5L2.8,-0.5L2.8,0.5L-2.8,0.5Z", "symbolSize": 100, "symbolStrokeWidth": 1.5, "labelFont": "DejaVu Sans Mono", "labelFontSize": 10, "labelColor": "#222", "labelAlign": "right", "labelOffset": -26.7, "labelLimit": 300}}}},
     {"data": {"values": [{"k": 1}]}, "mark": {"type": "rule", "color": "#000", "strokeWidth": 1.2}, "encoding": {"x": {"datum": 0, "scale": {"domain": [-1.79, 24.864], "nice": false, "zero": false}, "axis": null}, "x2": {"datum": 24}, "y": {"datum": 0, "scale": {"domain": [-28.43, 211.57], "nice": false, "zero": false}, "axis": null}}},
     {"data": {"values": [{"k": 1}]}, "mark": {"type": "rule", "color": "#000", "strokeWidth": 1.2}, "encoding": {"x": {"datum": 0, "scale": {"domain": [-1.79, 24.864], "nice": false, "zero": false}, "axis": null}, "y": {"datum": 0, "scale": {"domain": [-28.43, 211.57], "nice": false, "zero": false}, "axis": null}, "y2": {"datum": 80}}}
    ]},
   {"width": 549, "height": 2, "data": {"values": []}, "mark": "rect"}
  ]},
  {"width": 3, "height": 296, "data": {"values": []}, "mark": "rect", "view": {"fill": "#000", "stroke": null}}
 ]},
 {"width": 559, "height": 3, "data": {"values": []}, "mark": "rect", "view": {"fill": "#000", "stroke": null}}
]},
{"spacing": 0, "vconcat": [
 {"width": 559, "height": 3, "data": {"values": []}, "mark": "rect", "view": {"fill": "#000", "stroke": null}},
 {"spacing": 2, "hconcat": [
  {"width": 3, "height": 296, "data": {"values": []}, "mark": "rect", "view": {"fill": "#000", "stroke": null}},
  {"spacing": 0, "vconcat": [
   {"width": 549, "height": 2, "data": {"values": []}, "mark": "rect"},
   {"spacing": 2, "hconcat": [
    {"width": 217, "height": 39, "view": {"stroke": "#707070"}, "data": {"values": [{"s": "Plasma Insulin Level (mU/l)"}]}, "mark": {"type": "text", "font": "Liberation Sans", "fontSize": 14, "color": "#2222dd", "dx": -3}, "encoding": {"text": {"field": "s"}}},
    {"width": 143, "height": 39, "view": {"stroke": "#707070"}, "layer": [
      {"data": {"name": "mi"}, "mark": {"type": "rule", "color": "#8a5a5a", "strokeWidth": 1}, "encoding": {"x": {"field": "i", "type": "quantitative", "scale": {"domain": [-0.867, 26.69], "nice": false, "zero": false}, "axis": null}, "y": {"field": "h", "type": "quantitative", "scale": {"domain": [-0.144, 1.102], "nice": false, "zero": false}, "axis": null}, "y2": {"datum": 0}}},
      {"data": {"values": [{"s": "Current Run"}]}, "mark": {"type": "text", "font": "Liberation Mono", "fontSize": 8.5, "fontStyle": "italic", "fontWeight": "bold", "color": "#222"}, "encoding": {"text": {"field": "s"}, "x": {"datum": 7.69}, "y": {"datum": 0.853}}}
    ]},
    {"width": 91, "height": 39, "view": {"stroke": "#707070"}, "data": {"values": [{"s": "Help"}]}, "mark": {"type": "text", "font": "Liberation Sans", "fontSize": 14, "color": "#2222dd", "dx": -9}, "encoding": {"text": {"field": "s"}}},
    {"width": 88, "height": 39, "view": {"stroke": "#707070"}, "data": {"values": [{"s": "Data"}]}, "mark": {"type": "text", "font": "Liberation Sans", "fontSize": 14, "color": "#2222dd", "dx": -9}, "encoding": {"text": {"field": "s"}}}
   ]},
   {"width": 549, "height": 2, "data": {"values": []}, "mark": "rect"},
   {"width": 548, "height": 249, "view": {"stroke": "#707070"},
    "resolve": {"scale": {"y": "independent", "stroke": "independent"}, "axis": {"x": "independent", "y": "independent"}, "legend": {"stroke": "independent"}},
    "layer": [
     {"data": {"name": "ia"}, "mark": {"type": "rule", "color": "#c8602c", "strokeWidth": 1}, "encoding": {"x": {"field": "t", "type": "quantitative", "scale": {"domain": [-1.79, 24.864], "nice": false, "zero": false}, "axis": null}, "y": {"field": "v", "type": "quantitative", "scale": {"domain": [-62.05, 51.14], "nice": false, "zero": false}, "axis": {"orient": "left", "offset": -36.8, "values": [0,5,10,15,20,25,30,35,40,45], "domain": false, "grid": false, "tickSize": -4, "tickColor": "#000", "labelPadding": 10, "labelFont": "DejaVu Sans Mono", "labelFontSize": 10, "labelColor": "#222", "title": null}}, "y2": {"datum": 0}}},
     {"data": {"name": "ia"}, "mark": {"type": "line", "strokeWidth": 1.3}, "encoding": {"x": {"field": "t", "type": "quantitative", "scale": {"domain": [-1.79, 24.864], "nice": false, "zero": false}, "axis": null}, "y": {"field": "p", "type": "quantitative", "scale": {"domain": [-62.05, 51.14], "nice": false, "zero": false}, "axis": null}, "stroke": {"datum": "Previous Run", "scale": {"range": ["#5a5ac0"]}, "legend": {"orient": "none", "legendX": 499, "legendY": 16.5, "title": null, "padding": 0, "symbolType": "M-2.9,0L2.9,0", "symbolSize": 100, "symbolStrokeWidth": 1.5, "labelFont": "DejaVu Sans Mono", "labelFontSize": 10, "labelColor": "#222", "labelAlign": "right", "labelOffset": -26.5, "labelLimit": 300}}}},
     {"data": {"values": [{"k": 1}]}, "mark": {"type": "rule", "color": "#000", "strokeWidth": 1.2}, "encoding": {"x": {"datum": 0, "scale": {"domain": [-1.79, 24.864], "nice": false, "zero": false}, "axis": null}, "x2": {"datum": 24}, "y": {"datum": 0, "scale": {"domain": [-62.05, 51.14], "nice": false, "zero": false}, "axis": null}}},
     {"data": {"values": [{"k": 1}]}, "mark": {"type": "rule", "color": "#000", "strokeWidth": 1.2}, "encoding": {"x": {"datum": 0, "scale": {"domain": [-1.79, 24.864], "nice": false, "zero": false}, "axis": null}, "y": {"datum": 0, "scale": {"domain": [-62.05, 51.14], "nice": false, "zero": false}, "axis": null}, "y2": {"datum": 45}}},
     {"data": {"name": "da"}, "mark": {"type": "rect", "filled": false, "strokeWidth": 1.5}, "encoding": {"x": {"field": "t0", "type": "quantitative", "scale": {"domain": [-1.79, 24.864], "nice": false, "zero": false}, "axis": {"orient": "bottom", "offset": -29.5, "values": [0,2,4,6,8,10,12,14,16,18,20,22,24], "domain": false, "grid": false, "tickSize": -4, "tickColor": "#000", "labelPadding": 8, "labelFlush": false, "labelFont": "DejaVu Sans Mono", "labelFontSize": 10, "labelColor": "#222", "title": "Time (hours)", "titleFont": "DejaVu Sans Mono", "titleFontSize": 10, "titleFontWeight": "normal", "titleColor": "#222", "titlePadding": 3, "titleX": 283.5}}, "x2": {"field": "t1"}, "y": {"field": "d", "type": "quantitative", "scale": {"domain": [-14.22, 105.78], "nice": false, "zero": false}, "axis": {"orient": "left", "offset": -36.8, "values": [0,10,20,30,40], "domain": false, "grid": false, "tickSize": -4, "tickColor": "#000", "labelPadding": 10, "labelFont": "DejaVu Sans Mono", "labelFontSize": 10, "labelColor": "#222", "title": null}}, "y2": {"datum": 0}, "stroke": {"field": "type", "type": "nominal", "scale": {"domain": ["Actrapid", "UltraLente"], "range": ["#2b2ba8", "#f0c850"]}, "legend": {"orient": "none", "legendX": 499, "legendY": 139.2, "title": null, "padding": 0, "rowPadding": 0, "symbolType": "M-2.9,-0.5L2.9,-0.5L2.9,0.5L-2.9,0.5Z", "symbolSize": 100, "symbolStrokeWidth": 1.5, "labelFont": "DejaVu Sans Mono", "labelFontSize": 10, "labelColor": "#222", "labelAlign": "right", "labelOffset": -26.5, "labelLimit": 300}}}},
     {"data": {"values": [{"k": 1}]}, "mark": {"type": "rule", "color": "#000", "strokeWidth": 1.2}, "encoding": {"x": {"datum": 0, "scale": {"domain": [-1.79, 24.864], "nice": false, "zero": false}, "axis": null}, "x2": {"datum": 24}, "y": {"datum": 0, "scale": {"domain": [-14.22, 105.78], "nice": false, "zero": false}, "axis": null}}},
     {"data": {"values": [{"k": 1}]}, "mark": {"type": "rule", "color": "#000", "strokeWidth": 1.2}, "encoding": {"x": {"datum": 0, "scale": {"domain": [-1.79, 24.864], "nice": false, "zero": false}, "axis": null}, "y": {"datum": 0, "scale": {"domain": [-14.22, 105.78], "nice": false, "zero": false}, "axis": null}, "y2": {"datum": 40}}}
    ]},
   {"width": 549, "height": 2, "data": {"values": []}, "mark": "rect"}
  ]},
  {"width": 3, "height": 296, "data": {"values": []}, "mark": "rect", "view": {"fill": "#000", "stroke": null}}
 ]},
 {"width": 559, "height": 3, "data": {"values": []}, "mark": "rect", "view": {"fill": "#000", "stroke": null}}
]},
{"width": 559, "height": 41, "data": {"values": [{"s": "( a )"}]}, "mark": {"type": "text", "font": "Liberation Sans", "fontSize": 17, "color": "#000"}, "encoding": {"text": {"field": "s"}}},
{"spacing": 0, "vconcat": [
 {"width": 559, "height": 3, "data": {"values": []}, "mark": "rect", "view": {"fill": "#000", "stroke": null}},
 {"spacing": 2, "hconcat": [
  {"width": 3, "height": 296, "data": {"values": []}, "mark": "rect", "view": {"fill": "#000", "stroke": null}},
  {"spacing": 0, "vconcat": [
   {"width": 549, "height": 2, "data": {"values": []}, "mark": "rect"},
   {"spacing": 2, "hconcat": [
    {"width": 211, "height": 39, "view": {"stroke": "#707070"}, "data": {"values": [{"s": "Blood Glucose (mmol/l)"}]}, "mark": {"type": "text", "font": "Liberation Sans", "fontSize": 14, "color": "#2222dd"}, "encoding": {"text": {"field": "s"}}},
    {"width": 140, "height": 39, "view": {"stroke": "#707070"}, "layer": [
      {"data": {"name": "mg"}, "mark": {"type": "rule", "color": "#8a5a5a", "strokeWidth": 1}, "encoding": {"x": {"field": "i", "type": "quantitative", "scale": {"domain": [-0.605, 25.86], "nice": false, "zero": false}, "axis": null}, "y": {"field": "h", "type": "quantitative", "scale": {"domain": [-0.223, 1.356], "nice": false, "zero": false}, "axis": null}, "y2": {"datum": 0}}},
      {"data": {"values": [{"s": "Current Run"}]}, "mark": {"type": "text", "font": "Liberation Mono", "fontSize": 8.5, "fontStyle": "italic", "fontWeight": "bold", "color": "#222"}, "encoding": {"text": {"field": "s"}, "x": {"datum": 7.56}, "y": {"datum": 1.134}}}
    ]},
    {"width": 102, "height": 39, "view": {"stroke": "#707070"}, "data": {"values": [{"s": ["HbA1c", "= 7.9 %"]}]}, "mark": {"type": "text", "font": "Liberation Sans", "fontSize": 14, "fontWeight": "bold", "lineHeight": 15, "color": "#2222dd", "dx": -16, "dy": -7.5}, "encoding": {"text": {"field": "s"}}},
    {"width": 86, "height": 39, "view": {"stroke": "#707070"}, "data": {"values": [{"s": "Data"}]}, "mark": {"type": "text", "font": "Liberation Sans", "fontSize": 14, "color": "#2222dd", "dx": -8}, "encoding": {"text": {"field": "s"}}}
   ]},
   {"width": 549, "height": 2, "data": {"values": []}, "mark": "rect"},
   {"width": 548, "height": 249, "view": {"stroke": "#707070"},
    "resolve": {"scale": {"y": "independent", "stroke": "independent"}, "axis": {"x": "independent", "y": "independent"}, "legend": {"stroke": "independent"}},
    "layer": [
     {"data": {"name": "gb"}, "mark": {"type": "rule", "color": "#c8602c", "strokeWidth": 1}, "encoding": {"x": {"field": "t", "type": "quantitative", "scale": {"domain": [-1.79, 24.864], "nice": false, "zero": false}, "axis": null}, "y": {"field": "v", "type": "quantitative", "scale": {"domain": [-34.47, 28.41], "nice": false, "zero": false}, "axis": {"orient": "left", "offset": -36.8, "values": [0,5,10,15,20,25], "domain": false, "grid": false, "tickSize": -4, "tickColor": "#000", "labelPadding": 10, "labelFont": "DejaVu Sans Mono", "labelFontSize": 10, "labelColor": "#222", "title": null}}, "y2": {"datum": 0}}},
     {"data": {"values": [{"lvl": 10}, {"lvl": 4}]}, "mark": {"type": "rule", "color": "#c4c4c4", "strokeWidth": 1.5}, "encoding": {"x": {"datum": 0, "scale": {"domain": [-1.79, 24.864], "nice": false, "zero": false}, "axis": null}, "x2": {"datum": 24}, "y": {"field": "lvl", "type": "quantitative", "scale": {"domain": [-34.47, 28.41], "nice": false, "zero": false}, "axis": null}}},
     {"data": {"name": "gb"}, "mark": {"type": "line", "strokeWidth": 1.3}, "encoding": {"x": {"field": "t", "type": "quantitative", "scale": {"domain": [-1.79, 24.864], "nice": false, "zero": false}, "axis": null}, "y": {"field": "p", "type": "quantitative", "scale": {"domain": [-34.47, 28.41], "nice": false, "zero": false}, "axis": null}, "stroke": {"datum": "Previous run", "scale": {"range": ["#5050b8"]}, "legend": {"orient": "none", "legendX": 492.5, "legendY": 23.5, "title": null, "padding": 0, "symbolType": "M-4.2,0L4.2,0", "symbolSize": 100, "symbolStrokeWidth": 1.5, "labelFont": "DejaVu Sans Mono", "labelFontSize": 10, "labelColor": "#222", "labelAlign": "right", "labelOffset": -31, "labelLimit": 300}}}},
     {"data": {"values": [{"k": 1}]}, "mark": {"type": "rule", "color": "#000", "strokeWidth": 1.2}, "encoding": {"x": {"datum": 0, "scale": {"domain": [-1.79, 24.864], "nice": false, "zero": false}, "axis": null}, "x2": {"datum": 24}, "y": {"datum": 0, "scale": {"domain": [-34.47, 28.41], "nice": false, "zero": false}, "axis": null}}},
     {"data": {"values": [{"k": 1}]}, "mark": {"type": "rule", "color": "#000", "strokeWidth": 1.2}, "encoding": {"x": {"datum": 0, "scale": {"domain": [-1.79, 24.864], "nice": false, "zero": false}, "axis": null}, "y": {"datum": 0, "scale": {"domain": [-34.47, 28.41], "nice": false, "zero": false}, "axis": null}, "y2": {"datum": 25}}},
     {"data": {"name": "cb"}, "mark": {"type": "rect", "filled": false, "strokeWidth": 1.5}, "encoding": {"x": {"field": "t0", "type": "quantitative", "scale": {"domain": [-1.79, 24.864], "nice": false, "zero": false}, "axis": {"orient": "bottom", "offset": -29.5, "values": [0,2,4,6,8,10,12,14,16,18,20,22,24], "domain": false, "grid": false, "tickSize": -4, "tickColor": "#000", "labelPadding": 8, "labelFlush": false, "labelFont": "DejaVu Sans Mono", "labelFontSize": 10, "labelColor": "#222", "title": "Time (hours)", "titleFont": "DejaVu Sans Mono", "titleFontSize": 10, "titleFontWeight": "normal", "titleColor": "#222", "titlePadding": 3, "titleX": 283.5}}, "x2": {"field": "t1"}, "y": {"field": "c", "type": "quantitative", "scale": {"domain": [-28.43, 211.57], "nice": false, "zero": false}, "axis": {"orient": "left", "offset": -36.8, "values": [0,20,40,60,80], "domain": false, "grid": false, "tickSize": -4, "tickColor": "#000", "labelPadding": 10, "labelFont": "DejaVu Sans Mono", "labelFontSize": 10, "labelColor": "#222", "title": null}}, "y2": {"datum": 0}, "stroke": {"datum": "Carbohydrate intake (grams)", "scale": {"range": ["#f2c13c"]}, "legend": {"orient": "none", "legendX": 499.2, "legendY": 139.8, "title": null, "padding": 0, "symbolType": "M-2.8,-0.5L2.8,-0.5L2.8,0.5L-2.8,0.5Z", "symbolSize": 100, "symbolStrokeWidth": 1.5, "labelFont": "DejaVu Sans Mono", "labelFontSize": 10, "labelColor": "#222", "labelAlign": "right", "labelOffset": -26.7, "labelLimit": 300}}}},
     {"data": {"values": [{"k": 1}]}, "mark": {"type": "rule", "color": "#000", "strokeWidth": 1.2}, "encoding": {"x": {"datum": 0, "scale": {"domain": [-1.79, 24.864], "nice": false, "zero": false}, "axis": null}, "x2": {"datum": 24}, "y": {"datum": 0, "scale": {"domain": [-28.43, 211.57], "nice": false, "zero": false}, "axis": null}}},
     {"data": {"values": [{"k": 1}]}, "mark": {"type": "rule", "color": "#000", "strokeWidth": 1.2}, "encoding": {"x": {"datum": 0, "scale": {"domain": [-1.79, 24.864], "nice": false, "zero": false}, "axis": null}, "y": {"datum": 0, "scale": {"domain": [-28.43, 211.57], "nice": false, "zero": false}, "axis": null}, "y2": {"datum": 80}}}
    ]},
   {"width": 549, "height": 2, "data": {"values": []}, "mark": "rect"}
  ]},
  {"width": 3, "height": 296, "data": {"values": []}, "mark": "rect", "view": {"fill": "#000", "stroke": null}}
 ]},
 {"width": 559, "height": 3, "data": {"values": []}, "mark": "rect", "view": {"fill": "#000", "stroke": null}}
]},
{"spacing": 0, "vconcat": [
 {"width": 559, "height": 3, "data": {"values": []}, "mark": "rect", "view": {"fill": "#000", "stroke": null}},
 {"spacing": 2, "hconcat": [
  {"width": 3, "height": 296, "data": {"values": []}, "mark": "rect", "view": {"fill": "#000", "stroke": null}},
  {"spacing": 0, "vconcat": [
   {"width": 549, "height": 2, "data": {"values": []}, "mark": "rect"},
   {"spacing": 2, "hconcat": [
    {"width": 217, "height": 39, "view": {"stroke": "#707070"}, "data": {"values": [{"s": "Plasma Insulin Level (mU/l)"}]}, "mark": {"type": "text", "font": "Liberation Sans", "fontSize": 14, "color": "#2222dd", "dx": -3}, "encoding": {"text": {"field": "s"}}},
    {"width": 143, "height": 39, "view": {"stroke": "#707070"}, "layer": [
      {"data": {"name": "mi"}, "mark": {"type": "rule", "color": "#8a5a5a", "strokeWidth": 1}, "encoding": {"x": {"field": "i", "type": "quantitative", "scale": {"domain": [-0.867, 26.69], "nice": false, "zero": false}, "axis": null}, "y": {"field": "h", "type": "quantitative", "scale": {"domain": [-0.144, 1.102], "nice": false, "zero": false}, "axis": null}, "y2": {"datum": 0}}},
      {"data": {"values": [{"s": "Current Run"}]}, "mark": {"type": "text", "font": "Liberation Mono", "fontSize": 8.5, "fontStyle": "italic", "fontWeight": "bold", "color": "#222"}, "encoding": {"text": {"field": "s"}, "x": {"datum": 7.69}, "y": {"datum": 0.853}}}
    ]},
    {"width": 91, "height": 39, "view": {"stroke": "#707070"}, "data": {"values": [{"s": "Help"}]}, "mark": {"type": "text", "font": "Liberation Sans", "fontSize": 14, "color": "#2222dd", "dx": -9}, "encoding": {"text": {"field": "s"}}},
    {"width": 88, "height": 39, "view": {"stroke": "#707070"}, "data": {"values": [{"s": "Data"}]}, "mark": {"type": "text", "font": "Liberation Sans", "fontSize": 14, "color": "#2222dd", "dx": -9}, "encoding": {"text": {"field": "s"}}}
   ]},
   {"width": 549, "height": 2, "data": {"values": []}, "mark": "rect"},
   {"width": 548, "height": 249, "view": {"stroke": "#707070"},
    "resolve": {"scale": {"y": "independent", "stroke": "independent"}, "axis": {"x": "independent", "y": "independent"}, "legend": {"stroke": "independent"}},
    "layer": [
     {"data": {"name": "ib"}, "mark": {"type": "rule", "color": "#c8602c", "strokeWidth": 1}, "encoding": {"x": {"field": "t", "type": "quantitative", "scale": {"domain": [-1.79, 24.864], "nice": false, "zero": false}, "axis": null}, "y": {"field": "v", "type": "quantitative", "scale": {"domain": [-62.05, 51.14], "nice": false, "zero": false}, "axis": {"orient": "left", "offset": -36.8, "values": [0,5,10,15,20,25,30,35,40,45], "domain": false, "grid": false, "tickSize": -4, "tickColor": "#000", "labelPadding": 10, "labelFont": "DejaVu Sans Mono", "labelFontSize": 10, "labelColor": "#222", "title": null}}, "y2": {"datum": 0}}},
     {"data": {"name": "ib"}, "mark": {"type": "line", "strokeWidth": 1.3}, "encoding": {"x": {"field": "t", "type": "quantitative", "scale": {"domain": [-1.79, 24.864], "nice": false, "zero": false}, "axis": null}, "y": {"field": "p", "type": "quantitative", "scale": {"domain": [-62.05, 51.14], "nice": false, "zero": false}, "axis": null}, "stroke": {"datum": "Previous Run", "scale": {"range": ["#5a5ac0"]}, "legend": {"orient": "none", "legendX": 499, "legendY": 16.5, "title": null, "padding": 0, "symbolType": "M-2.9,0L2.9,0", "symbolSize": 100, "symbolStrokeWidth": 1.5, "labelFont": "DejaVu Sans Mono", "labelFontSize": 10, "labelColor": "#222", "labelAlign": "right", "labelOffset": -26.5, "labelLimit": 300}}}},
     {"data": {"values": [{"k": 1}]}, "mark": {"type": "rule", "color": "#000", "strokeWidth": 1.2}, "encoding": {"x": {"datum": 0, "scale": {"domain": [-1.79, 24.864], "nice": false, "zero": false}, "axis": null}, "x2": {"datum": 24}, "y": {"datum": 0, "scale": {"domain": [-62.05, 51.14], "nice": false, "zero": false}, "axis": null}}},
     {"data": {"values": [{"k": 1}]}, "mark": {"type": "rule", "color": "#000", "strokeWidth": 1.2}, "encoding": {"x": {"datum": 0, "scale": {"domain": [-1.79, 24.864], "nice": false, "zero": false}, "axis": null}, "y": {"datum": 0, "scale": {"domain": [-62.05, 51.14], "nice": false, "zero": false}, "axis": null}, "y2": {"datum": 45}}},
     {"data": {"name": "db"}, "mark": {"type": "rect", "filled": false, "strokeWidth": 1.5}, "encoding": {"x": {"field": "t0", "type": "quantitative", "scale": {"domain": [-1.79, 24.864], "nice": false, "zero": false}, "axis": {"orient": "bottom", "offset": -29.5, "values": [0,2,4,6,8,10,12,14,16,18,20,22,24], "domain": false, "grid": false, "tickSize": -4, "tickColor": "#000", "labelPadding": 8, "labelFlush": false, "labelFont": "DejaVu Sans Mono", "labelFontSize": 10, "labelColor": "#222", "title": "Time (hours)", "titleFont": "DejaVu Sans Mono", "titleFontSize": 10, "titleFontWeight": "normal", "titleColor": "#222", "titlePadding": 3, "titleX": 283.5}}, "x2": {"field": "t1"}, "y": {"field": "d", "type": "quantitative", "scale": {"domain": [-14.22, 105.78], "nice": false, "zero": false}, "axis": {"orient": "left", "offset": -36.8, "values": [0,10,20,30,40], "domain": false, "grid": false, "tickSize": -4, "tickColor": "#000", "labelPadding": 10, "labelFont": "DejaVu Sans Mono", "labelFontSize": 10, "labelColor": "#222", "title": null}}, "y2": {"datum": 0}, "stroke": {"field": "type", "type": "nominal", "scale": {"domain": ["Actrapid", "UltraLente"], "range": ["#2b2ba8", "#f0c850"]}, "legend": {"orient": "none", "legendX": 499, "legendY": 139.2, "title": null, "padding": 0, "rowPadding": 0, "symbolType": "M-2.9,-0.5L2.9,-0.5L2.9,0.5L-2.9,0.5Z", "symbolSize": 100, "symbolStrokeWidth": 1.5, "labelFont": "DejaVu Sans Mono", "labelFontSize": 10, "labelColor": "#222", "labelAlign": "right", "labelOffset": -26.5, "labelLimit": 300}}}},
     {"data": {"values": [{"k": 1}]}, "mark": {"type": "rule", "color": "#000", "strokeWidth": 1.2}, "encoding": {"x": {"datum": 0, "scale": {"domain": [-1.79, 24.864], "nice": false, "zero": false}, "axis": null}, "x2": {"datum": 24}, "y": {"datum": 0, "scale": {"domain": [-14.22, 105.78], "nice": false, "zero": false}, "axis": null}}},
     {"data": {"values": [{"k": 1}]}, "mark": {"type": "rule", "color": "#000", "strokeWidth": 1.2}, "encoding": {"x": {"datum": 0, "scale": {"domain": [-1.79, 24.864], "nice": false, "zero": false}, "axis": null}, "y": {"datum": 0, "scale": {"domain": [-14.22, 105.78], "nice": false, "zero": false}, "axis": null}, "y2": {"datum": 40}}}
    ]},
   {"width": 549, "height": 2, "data": {"values": []}, "mark": "rect"}
  ]},
  {"width": 3, "height": 296, "data": {"values": []}, "mark": "rect", "view": {"fill": "#000", "stroke": null}}
 ]},
 {"width": 559, "height": 3, "data": {"values": []}, "mark": "rect", "view": {"fill": "#000", "stroke": null}}
]},
{"width": 559, "height": 41, "data": {"values": [{"s": "( b )"}]}, "mark": {"type": "text", "font": "Liberation Sans", "fontSize": 17, "color": "#000"}, "encoding": {"text": {"field": "s"}}},
{"spacing": 0, "vconcat": [
 {"width": 559, "height": 3, "data": {"values": []}, "mark": "rect", "view": {"fill": "#000", "stroke": null}},
 {"spacing": 2, "hconcat": [
  {"width": 3, "height": 296, "data": {"values": []}, "mark": "rect", "view": {"fill": "#000", "stroke": null}},
  {"spacing": 0, "vconcat": [
   {"width": 549, "height": 2, "data": {"values": []}, "mark": "rect"},
   {"spacing": 2, "hconcat": [
    {"width": 211, "height": 39, "view": {"stroke": "#707070"}, "data": {"values": [{"s": "Blood Glucose (mmol/l)"}]}, "mark": {"type": "text", "font": "Liberation Sans", "fontSize": 14, "color": "#2222dd"}, "encoding": {"text": {"field": "s"}}},
    {"width": 140, "height": 39, "view": {"stroke": "#707070"}, "layer": [
      {"data": {"name": "mg"}, "mark": {"type": "rule", "color": "#8a5a5a", "strokeWidth": 1}, "encoding": {"x": {"field": "i", "type": "quantitative", "scale": {"domain": [-0.605, 25.86], "nice": false, "zero": false}, "axis": null}, "y": {"field": "h", "type": "quantitative", "scale": {"domain": [-0.223, 1.356], "nice": false, "zero": false}, "axis": null}, "y2": {"datum": 0}}},
      {"data": {"values": [{"s": "Current Run"}]}, "mark": {"type": "text", "font": "Liberation Mono", "fontSize": 8.5, "fontStyle": "italic", "fontWeight": "bold", "color": "#222"}, "encoding": {"text": {"field": "s"}, "x": {"datum": 7.56}, "y": {"datum": 1.134}}}
    ]},
    {"width": 102, "height": 39, "view": {"stroke": "#707070"}, "data": {"values": [{"s": ["HbA1c", "= 7.6 %"]}]}, "mark": {"type": "text", "font": "Liberation Sans", "fontSize": 14, "fontWeight": "bold", "lineHeight": 15, "color": "#2222dd", "dx": -16, "dy": -7.5}, "encoding": {"text": {"field": "s"}}},
    {"width": 86, "height": 39, "view": {"stroke": "#707070"}, "data": {"values": [{"s": "Data"}]}, "mark": {"type": "text", "font": "Liberation Sans", "fontSize": 14, "color": "#2222dd", "dx": -8}, "encoding": {"text": {"field": "s"}}}
   ]},
   {"width": 549, "height": 2, "data": {"values": []}, "mark": "rect"},
   {"width": 548, "height": 249, "view": {"stroke": "#707070"},
    "resolve": {"scale": {"y": "independent", "stroke": "independent"}, "axis": {"x": "independent", "y": "independent"}, "legend": {"stroke": "independent"}},
    "layer": [
     {"data": {"name": "gc"}, "mark": {"type": "rule", "color": "#c8602c", "strokeWidth": 1}, "encoding": {"x": {"field": "t", "type": "quantitative", "scale": {"domain": [-1.79, 24.864], "nice": false, "zero": false}, "axis": null}, "y": {"field": "v", "type": "quantitative", "scale": {"domain": [-34.47, 28.41], "nice": false, "zero": false}, "axis": {"orient": "left", "offset": -36.8, "values": [0,5,10,15,20,25], "domain": false, "grid": false, "tickSize": -4, "tickColor": "#000", "labelPadding": 10, "labelFont": "DejaVu Sans Mono", "labelFontSize": 10, "labelColor": "#222", "title": null}}, "y2": {"datum": 0}}},
     {"data": {"values": [{"lvl": 10}, {"lvl": 4}]}, "mark": {"type": "rule", "color": "#c4c4c4", "strokeWidth": 1.5}, "encoding": {"x": {"datum": 0, "scale": {"domain": [-1.79, 24.864], "nice": false, "zero": false}, "axis": null}, "x2": {"datum": 24}, "y": {"field": "lvl", "type": "quantitative", "scale": {"domain": [-34.47, 28.41], "nice": false, "zero": false}, "axis": null}}},
     {"data": {"name": "gc"}, "mark": {"type": "line", "strokeWidth": 1.3}, "encoding": {"x": {"field": "t", "type": "quantitative", "scale": {"domain": [-1.79, 24.864], "nice": false, "zero": false}, "axis": null}, "y": {"field": "p", "type": "quantitative", "scale": {"domain": [-34.47, 28.41], "nice": false, "zero": false}, "axis": null}, "stroke": {"datum": "Previous run", "scale": {"range": ["#5050b8"]}, "legend": {"orient": "none", "legendX": 492.5, "legendY": 23.5, "title": null, "padding": 0, "symbolType": "M-4.2,0L4.2,0", "symbolSize": 100, "symbolStrokeWidth": 1.5, "labelFont": "DejaVu Sans Mono", "labelFontSize": 10, "labelColor": "#222", "labelAlign": "right", "labelOffset": -31, "labelLimit": 300}}}},
     {"data": {"values": [{"k": 1}]}, "mark": {"type": "rule", "color": "#000", "strokeWidth": 1.2}, "encoding": {"x": {"datum": 0, "scale": {"domain": [-1.79, 24.864], "nice": false, "zero": false}, "axis": null}, "x2": {"datum": 24}, "y": {"datum": 0, "scale": {"domain": [-34.47, 28.41], "nice": false, "zero": false}, "axis": null}}},
     {"data": {"values": [{"k": 1}]}, "mark": {"type": "rule", "color": "#000", "strokeWidth": 1.2}, "encoding": {"x": {"datum": 0, "scale": {"domain": [-1.79, 24.864], "nice": false, "zero": false}, "axis": null}, "y": {"datum": 0, "scale": {"domain": [-34.47, 28.41], "nice": false, "zero": false}, "axis": null}, "y2": {"datum": 25}}},
     {"data": {"name": "cc"}, "mark": {"type": "rect", "filled": false, "strokeWidth": 1.5}, "encoding": {"x": {"field": "t0", "type": "quantitative", "scale": {"domain": [-1.79, 24.864], "nice": false, "zero": false}, "axis": {"orient": "bottom", "offset": -29.5, "values": [0,2,4,6,8,10,12,14,16,18,20,22,24], "domain": false, "grid": false, "tickSize": -4, "tickColor": "#000", "labelPadding": 8, "labelFlush": false, "labelFont": "DejaVu Sans Mono", "labelFontSize": 10, "labelColor": "#222", "title": "Time (hours)", "titleFont": "DejaVu Sans Mono", "titleFontSize": 10, "titleFontWeight": "normal", "titleColor": "#222", "titlePadding": 3, "titleX": 283.5}}, "x2": {"field": "t1"}, "y": {"field": "c", "type": "quantitative", "scale": {"domain": [-28.43, 211.57], "nice": false, "zero": false}, "axis": {"orient": "left", "offset": -36.8, "values": [0,20,40,60,80], "domain": false, "grid": false, "tickSize": -4, "tickColor": "#000", "labelPadding": 10, "labelFont": "DejaVu Sans Mono", "labelFontSize": 10, "labelColor": "#222", "title": null}}, "y2": {"datum": 0}, "stroke": {"datum": "Carbohydrate intake (grams)", "scale": {"range": ["#f2c13c"]}, "legend": {"orient": "none", "legendX": 499.2, "legendY": 139.8, "title": null, "padding": 0, "symbolType": "M-2.8,-0.5L2.8,-0.5L2.8,0.5L-2.8,0.5Z", "symbolSize": 100, "symbolStrokeWidth": 1.5, "labelFont": "DejaVu Sans Mono", "labelFontSize": 10, "labelColor": "#222", "labelAlign": "right", "labelOffset": -26.7, "labelLimit": 300}}}},
     {"data": {"values": [{"k": 1}]}, "mark": {"type": "rule", "color": "#000", "strokeWidth": 1.2}, "encoding": {"x": {"datum": 0, "scale": {"domain": [-1.79, 24.864], "nice": false, "zero": false}, "axis": null}, "x2": {"datum": 24}, "y": {"datum": 0, "scale": {"domain": [-28.43, 211.57], "nice": false, "zero": false}, "axis": null}}},
     {"data": {"values": [{"k": 1}]}, "mark": {"type": "rule", "color": "#000", "strokeWidth": 1.2}, "encoding": {"x": {"datum": 0, "scale": {"domain": [-1.79, 24.864], "nice": false, "zero": false}, "axis": null}, "y": {"datum": 0, "scale": {"domain": [-28.43, 211.57], "nice": false, "zero": false}, "axis": null}, "y2": {"datum": 80}}}
    ]},
   {"width": 549, "height": 2, "data": {"values": []}, "mark": "rect"}
  ]},
  {"width": 3, "height": 296, "data": {"values": []}, "mark": "rect", "view": {"fill": "#000", "stroke": null}}
 ]},
 {"width": 559, "height": 3, "data": {"values": []}, "mark": "rect", "view": {"fill": "#000", "stroke": null}}
]},
{"spacing": 0, "vconcat": [
 {"width": 559, "height": 3, "data": {"values": []}, "mark": "rect", "view": {"fill": "#000", "stroke": null}},
 {"spacing": 2, "hconcat": [
  {"width": 3, "height": 296, "data": {"values": []}, "mark": "rect", "view": {"fill": "#000", "stroke": null}},
  {"spacing": 0, "vconcat": [
   {"width": 549, "height": 2, "data": {"values": []}, "mark": "rect"},
   {"spacing": 2, "hconcat": [
    {"width": 217, "height": 39, "view": {"stroke": "#707070"}, "data": {"values": [{"s": "Plasma Insulin Level (mU/l)"}]}, "mark": {"type": "text", "font": "Liberation Sans", "fontSize": 14, "color": "#2222dd", "dx": -3}, "encoding": {"text": {"field": "s"}}},
    {"width": 143, "height": 39, "view": {"stroke": "#707070"}, "layer": [
      {"data": {"name": "mi"}, "mark": {"type": "rule", "color": "#8a5a5a", "strokeWidth": 1}, "encoding": {"x": {"field": "i", "type": "quantitative", "scale": {"domain": [-0.867, 26.69], "nice": false, "zero": false}, "axis": null}, "y": {"field": "h", "type": "quantitative", "scale": {"domain": [-0.144, 1.102], "nice": false, "zero": false}, "axis": null}, "y2": {"datum": 0}}},
      {"data": {"values": [{"s": "Current Run"}]}, "mark": {"type": "text", "font": "Liberation Mono", "fontSize": 8.5, "fontStyle": "italic", "fontWeight": "bold", "color": "#222"}, "encoding": {"text": {"field": "s"}, "x": {"datum": 7.69}, "y": {"datum": 0.853}}}
    ]},
    {"width": 91, "height": 39, "view": {"stroke": "#707070"}, "data": {"values": [{"s": "Help"}]}, "mark": {"type": "text", "font": "Liberation Sans", "fontSize": 14, "color": "#2222dd", "dx": -9}, "encoding": {"text": {"field": "s"}}},
    {"width": 88, "height": 39, "view": {"stroke": "#707070"}, "data": {"values": [{"s": "Data"}]}, "mark": {"type": "text", "font": "Liberation Sans", "fontSize": 14, "color": "#2222dd", "dx": -9}, "encoding": {"text": {"field": "s"}}}
   ]},
   {"width": 549, "height": 2, "data": {"values": []}, "mark": "rect"},
   {"width": 548, "height": 249, "view": {"stroke": "#707070"},
    "resolve": {"scale": {"y": "independent", "stroke": "independent"}, "axis": {"x": "independent", "y": "independent"}, "legend": {"stroke": "independent"}},
    "layer": [
     {"data": {"name": "ic"}, "mark": {"type": "rule", "color": "#c8602c", "strokeWidth": 1}, "encoding": {"x": {"field": "t", "type": "quantitative", "scale": {"domain": [-1.79, 24.864], "nice": false, "zero": false}, "axis": null}, "y": {"field": "v", "type": "quantitative", "scale": {"domain": [-62.05, 51.14], "nice": false, "zero": false}, "axis": {"orient": "left", "offset": -36.8, "values": [0,5,10,15,20,25,30,35,40,45], "domain": false, "grid": false, "tickSize": -4, "tickColor": "#000", "labelPadding": 10, "labelFont": "DejaVu Sans Mono", "labelFontSize": 10, "labelColor": "#222", "title": null}}, "y2": {"datum": 0}}},
     {"data": {"name": "ic"}, "mark": {"type": "line", "strokeWidth": 1.3}, "encoding": {"x": {"field": "t", "type": "quantitative", "scale": {"domain": [-1.79, 24.864], "nice": false, "zero": false}, "axis": null}, "y": {"field": "p", "type": "quantitative", "scale": {"domain": [-62.05, 51.14], "nice": false, "zero": false}, "axis": null}, "stroke": {"datum": "Previous Run", "scale": {"range": ["#5a5ac0"]}, "legend": {"orient": "none", "legendX": 499, "legendY": 16.5, "title": null, "padding": 0, "symbolType": "M-2.9,0L2.9,0", "symbolSize": 100, "symbolStrokeWidth": 1.5, "labelFont": "DejaVu Sans Mono", "labelFontSize": 10, "labelColor": "#222", "labelAlign": "right", "labelOffset": -26.5, "labelLimit": 300}}}},
     {"data": {"values": [{"k": 1}]}, "mark": {"type": "rule", "color": "#000", "strokeWidth": 1.2}, "encoding": {"x": {"datum": 0, "scale": {"domain": [-1.79, 24.864], "nice": false, "zero": false}, "axis": null}, "x2": {"datum": 24}, "y": {"datum": 0, "scale": {"domain": [-62.05, 51.14], "nice": false, "zero": false}, "axis": null}}},
     {"data": {"values": [{"k": 1}]}, "mark": {"type": "rule", "color": "#000", "strokeWidth": 1.2}, "encoding": {"x": {"datum": 0, "scale": {"domain": [-1.79, 24.864], "nice": false, "zero": false}, "axis": null}, "y": {"datum": 0, "scale": {"domain": [-62.05, 51.14], "nice": false, "zero": false}, "axis": null}, "y2": {"datum": 45}}},
     {"data": {"name": "dc"}, "mark": {"type": "rect", "filled": false, "strokeWidth": 1.5}, "encoding": {"x": {"field": "t0", "type": "quantitative", "scale": {"domain": [-1.79, 24.864], "nice": false, "zero": false}, "axis": {"orient": "bottom", "offset": -29.5, "values": [0,2,4,6,8,10,12,14,16,18,20,22,24], "domain": false, "grid": false, "tickSize": -4, "tickColor": "#000", "labelPadding": 8, "labelFlush": false, "labelFont": "DejaVu Sans Mono", "labelFontSize": 10, "labelColor": "#222", "title": "Time (hours)", "titleFont": "DejaVu Sans Mono", "titleFontSize": 10, "titleFontWeight": "normal", "titleColor": "#222", "titlePadding": 3, "titleX": 283.5}}, "x2": {"field": "t1"}, "y": {"field": "d", "type": "quantitative", "scale": {"domain": [-14.22, 105.78], "nice": false, "zero": false}, "axis": {"orient": "left", "offset": -36.8, "values": [0,10,20,30,40], "domain": false, "grid": false, "tickSize": -4, "tickColor": "#000", "labelPadding": 10, "labelFont": "DejaVu Sans Mono", "labelFontSize": 10, "labelColor": "#222", "title": null}}, "y2": {"datum": 0}, "stroke": {"field": "type", "type": "nominal", "scale": {"domain": ["Actrapid", "UltraLente"], "range": ["#2b2ba8", "#f0c850"]}, "legend": {"orient": "none", "legendX": 499, "legendY": 139.2, "title": null, "padding": 0, "rowPadding": 0, "symbolType": "M-2.9,-0.5L2.9,-0.5L2.9,0.5L-2.9,0.5Z", "symbolSize": 100, "symbolStrokeWidth": 1.5, "labelFont": "DejaVu Sans Mono", "labelFontSize": 10, "labelColor": "#222", "labelAlign": "right", "labelOffset": -26.5, "labelLimit": 300}}}},
     {"data": {"values": [{"k": 1}]}, "mark": {"type": "rule", "color": "#000", "strokeWidth": 1.2}, "encoding": {"x": {"datum": 0, "scale": {"domain": [-1.79, 24.864], "nice": false, "zero": false}, "axis": null}, "x2": {"datum": 24}, "y": {"datum": 0, "scale": {"domain": [-14.22, 105.78], "nice": false, "zero": false}, "axis": null}}},
     {"data": {"values": [{"k": 1}]}, "mark": {"type": "rule", "color": "#000", "strokeWidth": 1.2}, "encoding": {"x": {"datum": 0, "scale": {"domain": [-1.79, 24.864], "nice": false, "zero": false}, "axis": null}, "y": {"datum": 0, "scale": {"domain": [-14.22, 105.78], "nice": false, "zero": false}, "axis": null}, "y2": {"datum": 40}}}
    ]},
   {"width": 549, "height": 2, "data": {"values": []}, "mark": "rect"}
  ]},
  {"width": 3, "height": 296, "data": {"values": []}, "mark": "rect", "view": {"fill": "#000", "stroke": null}}
 ]},
 {"width": 559, "height": 3, "data": {"values": []}, "mark": "rect", "view": {"fill": "#000", "stroke": null}}
]},
{"width": 559, "height": 36, "data": {"values": [{"s": "( c )"}]}, "mark": {"type": "text", "font": "Liberation Sans", "fontSize": 17, "color": "#000"}, "encoding": {"text": {"field": "s"}}}
]
}
